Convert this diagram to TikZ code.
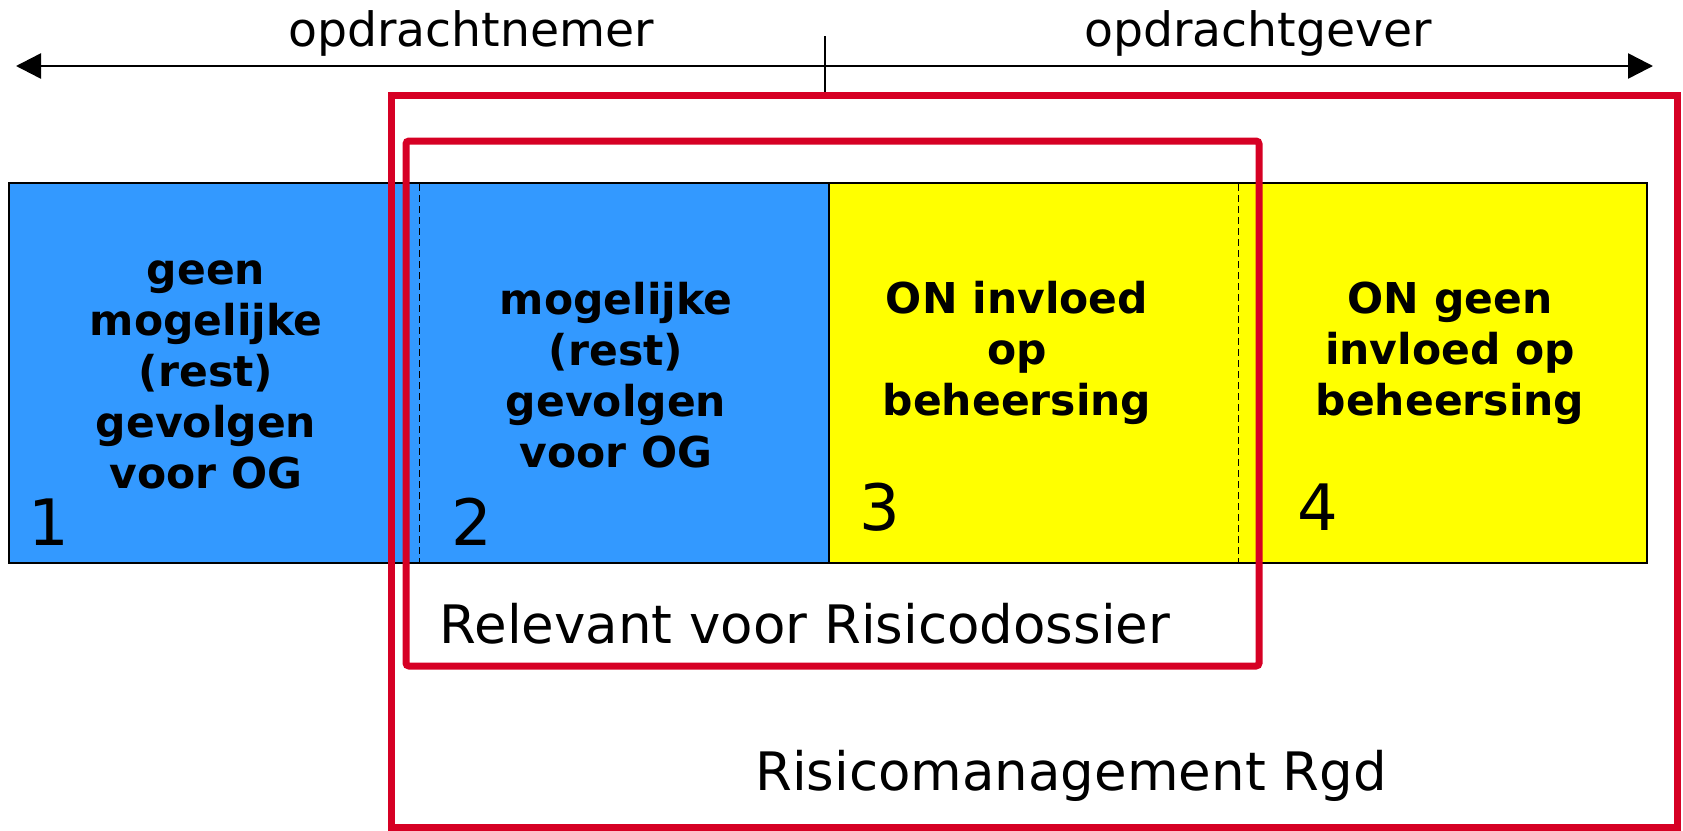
\documentclass[tikz,border=0pt]{standalone}
\usepackage{fontspec}
\setmainfont{DejaVu Sans}
\usetikzlibrary{arrows.meta}
\definecolor{rgdred}{RGB}{214,0,36}
\definecolor{barblue}{RGB}{51,153,255}
\definecolor{baryellow}{RGB}{255,255,0}
\begin{document}
\begin{tikzpicture}[x=1pt,y=-1pt,
  lbl/.style={font=\fontsize{47.3}{56}\selectfont, inner sep=0pt, anchor=base},
  big/.style={font=\fontsize{53}{62}\selectfont, inner sep=0pt, anchor=base},
  num/.style={font=\fontsize{64}{70}\selectfont, inner sep=0pt, anchor=base},
  cell/.style={font=\bfseries\fontsize{42.5}{50.8}\selectfont, align=center, inner sep=0pt, anchor=base},
  zone/.style={draw=black, line width=2pt, minimum height=380pt, inner sep=0pt, outer sep=0pt, anchor=north west},
  frame/.style={draw=rgdred, line width=7pt},
  divider/.style={draw=black, line width=1pt, dash pattern=on 7pt off 4pt},
  axis/.style={draw=black, line width=2.5pt, {Triangle[length=25pt,width=25pt]}-{Triangle[length=25pt,width=25pt]}},
]
\useasboundingbox (0,0) rectangle (1683,830);

% time axis
\coordinate (west) at (16,66);
\coordinate (east) at (1653,66);
\coordinate (tickTop) at (825,36);
\coordinate (tickBot) at (825,95.7);
\draw[axis] (west) -- (east);
\draw[line width=1.5pt] (tickTop) -- (tickBot);
\node[lbl] (on) at (471,46.7) {opdrachtnemer};
\node[lbl] (og) at (1258,46.7) {opdrachtgever};

% bar
\node[zone, fill=barblue, minimum width=820pt] (blue) at (9,183) {};
\node[zone, fill=baryellow, minimum width=818pt] (yellow) at (829,183) {};
\draw[divider] (419,184) -- (419,562);
\draw[divider] (1238,184) -- (1238,562);

% cell texts (base anchor = baseline of the last line)
\node[cell] (t1) at (206,488) {geen\\mogelijke\\(rest)\\gevolgen\\voor OG};
\node[cell] (t2) at (616,467) {mogelijke\\(rest)\\gevolgen\\voor OG};
\node[cell] (t3) at (1017,415) {ON invloed\\op\\beheersing};
\node[cell] (t4) at (1450,415) {ON geen\\invloed op\\beheersing};

% numbers
\node[num] (n1) at (49,545) {1};
\node[num] (n2) at (471.5,545) {2};
\node[num] (n3) at (880,530) {3};
\node[num] (n4) at (1318,530) {4};

% red frames
\draw[frame] (391,95.7) rectangle (1677,827);
\draw[frame, rounded corners=3pt] (406,141) rectangle (1259,666);

\node[big] (rel) at (805,643.3) {Relevant voor Risicodossier};
\node[big] (rm) at (1071,790) {Risicomanagement Rgd};
\end{tikzpicture}
\end{document}
